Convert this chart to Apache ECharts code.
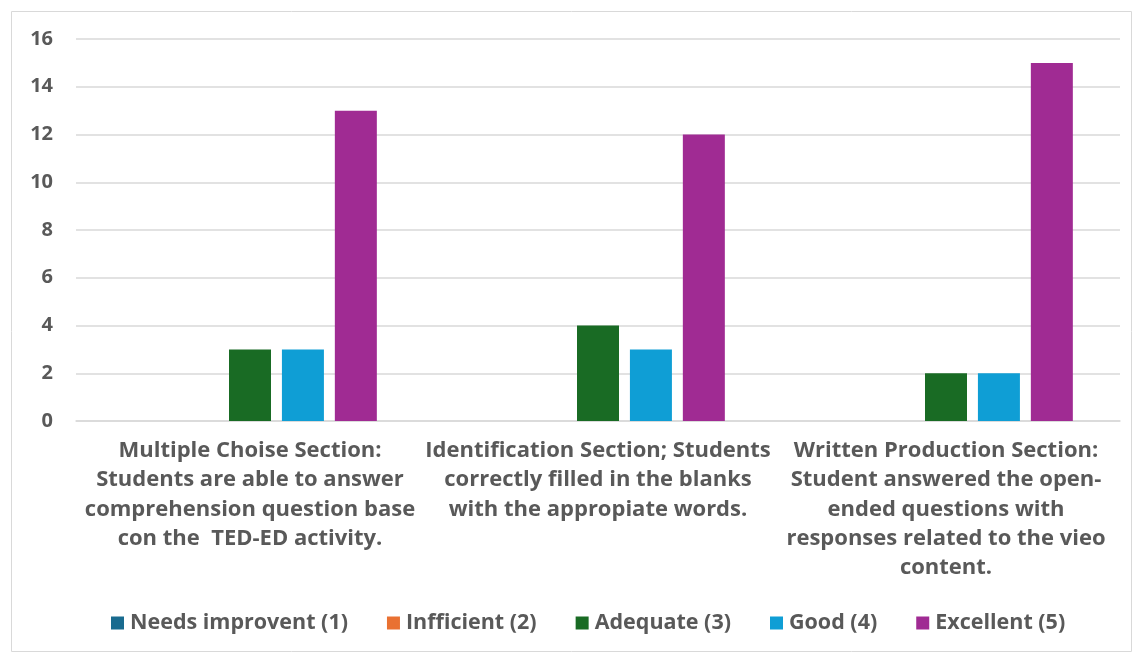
<!DOCTYPE html>
<html><head><meta charset="utf-8">
<script src="https://cdn.jsdelivr.net/npm/echarts@6/dist/echarts.min.js"></script>
<style>html,body{margin:0;padding:0;background:#fff}#c{width:1133px;height:652px}</style>
</head><body><div id="c"></div>
<script>
const categories = [
  "Multiple Choise Section:\nStudents are able to answer\ncomprehension question base\ncon the  TED-ED activity.",
  "Identification Section; Students\ncorrectly filled in the blanks\nwith the appropiate words.",
  "Written Production Section:\nStudent answered the open-\nended questions with\nresponses related to the vieo\ncontent."
];
const seriesNames = ["Needs improvent (1)", "Infficient (2)", "Adequate (3)", "Good (4)", "Excellent (5)"];
const needsImprovent = [0, 0, 0];
const infficient = [0, 0, 0];
const adequate = [3, 4, 2];
const good = [3, 3, 2];
const excellent = [13, 12, 15];
const colors = ["#196b8f", "#e97132", "#196b24", "#0f9ed5", "#a02b93"];
const values = [needsImprovent, infficient, adequate, good, excellent];

const chart = echarts.init(document.getElementById('c'));
const txt = '#595959';
const ff = 'Open Sans';
chart.setOption({
  animation: false,
  graphic: [{type:'rect', shape:{x:11.5,y:11.5,width:1120,height:640}, style:{fill:'none', stroke:'#d9d9d9', lineWidth:1}, z:-1}],
  grid: {left: 76, right: 13, top: 39, bottom: 231},
  legend: {
    top: 607, left: 106, itemWidth: 13, itemHeight: 13, itemGap: 39,
    icon: 'rect',
    textStyle: {color: txt, fontSize: 21.5, fontWeight: 'bold', fontFamily: ff, padding:[0,0,0,1]},
    data: seriesNames
  },
  xAxis: {
    type: 'category', data: categories,
    axisLine: {lineStyle: {color: '#d9d9d9', width: 1.5}}, axisTick: {show: false},
    axisLabel: {color: txt, fontSize: 22, fontWeight: 'bold', fontFamily: ff, lineHeight: 29.3, margin: 15, interval: 0}
  },
  yAxis: {
    type: 'value', min: 0, max: 16, interval: 2,
    axisLine: {show: false}, axisTick: {show: false},
    splitLine: {lineStyle: {color: '#d9d9d9', width: 1.5}},
    axisLabel: {color: txt, fontSize: 20, fontWeight: 'bold', fontFamily: ff, margin: 23}
  },
  series: seriesNames.map((n, i) => ({
    name: n, type: 'bar', data: values[i], barWidth: 42, barGap: '26%',
    itemStyle: {color: colors[i]}
  }))
});
</script></body></html>
